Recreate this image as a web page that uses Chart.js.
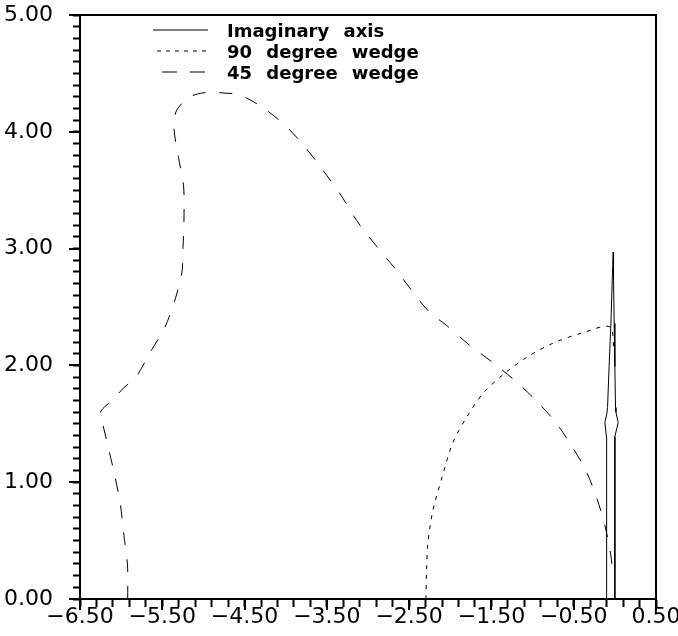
<!DOCTYPE html>
<html>
<head>
<meta charset="utf-8">
<script src="https://cdn.jsdelivr.net/npm/chart.js@4.4.0/dist/chart.umd.min.js"></script>
<style>
  body { margin: 0; background: #fff; }
</style>
</head>
<body>
<canvas id="wedges" width="678" height="636"></canvas>
<script>
// ---- data ----
var seriesNames = ["Imaginary axis", "90 degree wedge", "45 degree wedge"];

var imagX = [-0.100, -0.100, -0.100, -0.121, -0.097, -0.089, -0.070, -0.048, -0.032, -0.020,
             -0.016, -0.008, 0.000, 0.008, 0.013, 0.040, 0.000, 0.000, 0.000];
var imagY = [0.00, 1.20, 1.37, 1.51, 1.59, 1.64, 1.99, 2.36, 2.73, 2.97,
             2.73, 2.36, 1.99, 1.64, 1.60, 1.51, 1.39, 1.20, 0.00];

var wedge90X = [-2.296, -2.288, -2.272, -2.211, -2.101, -1.968, -1.798, -1.603, -1.360, -1.069,
                -0.753, -0.388, -0.060, -0.012];
var wedge90Y = [0.00, 0.25, 0.48, 0.76, 1.04, 1.34, 1.56, 1.76, 1.92, 2.07,
                2.19, 2.28, 2.33, 2.13];

var wedge45X = [-5.920, -5.923, -5.965, -6.008, -6.075, -6.154, -6.239, -6.245, -6.111, -5.965,
                -5.820, -5.649, -5.467, -5.346, -5.261, -5.248, -5.236, -5.242, -5.303, -5.358,
                -5.334, -5.224, -5.091, -4.908, -4.726, -4.568, -4.264, -3.985, -3.754, -3.547,
                -3.341, -3.098, -2.673, -2.272, -2.041, -1.761, -1.494, -1.214, -0.959, -0.728,
                -0.534, -0.352, -0.218, -0.121, -0.048, -0.036];
var wedge45Y = [0.00, 0.29, 0.54, 0.80, 1.05, 1.29, 1.55, 1.61, 1.70, 1.81,
                1.90, 2.11, 2.33, 2.56, 2.80, 3.01, 3.27, 3.54, 3.78, 4.03,
                4.17, 4.27, 4.32, 4.34, 4.33, 4.32, 4.20, 4.04, 3.86, 3.67,
                3.47, 3.20, 2.83, 2.47, 2.34, 2.17, 2.03, 1.87, 1.70, 1.52,
                1.32, 1.10, 0.86, 0.63, 0.37, 0.29];

var xMajor = [-6.5, -5.5, -4.5, -3.5, -2.5, -1.5, -0.5, 0.5];
var xTickLabels = ["\u22126.50", "\u22125.50", "\u22124.50", "\u22123.50", "\u22122.50", "\u22121.50", "\u22120.50", "0.50"];
var yMajor = [0, 1, 2, 3, 4, 5];
var yTickLabels = ["0.00", "1.00", "2.00", "3.00", "4.00", "5.00"];
var xMinorStep = 0.2;
var yMinorStep = 0.1;

function pts(xs, ys) {
    return xs.map(function (x, i) { return { x: x, y: ys[i] }; });
}

function majorIndex(list, v) {
    for (var i = 0; i < list.length; i++) {
        if (Math.abs(list[i] - v) < 1e-6) return i;
    }
    return -1;
}

function minorTicks(scale, step) {
    var t = [];
    var n = Math.round((scale.max - scale.min) / step);
    for (var i = 0; i <= n; i++) {
        t.push({ value: +(scale.min + i * step).toFixed(4) });
    }
    scale.ticks = t;
}

// frame, longer major ticks and the legend inside the plot
var extras = {
    id: 'extras',
    afterDraw: function (chart) {
        var c = chart.ctx, a = chart.chartArea;
        var xs = chart.scales.x, ys = chart.scales.y;
        c.save();
        c.strokeStyle = '#000';
        c.lineWidth = 2;
        c.strokeRect(a.left, a.top, a.right - a.left, a.bottom - a.top);

        c.beginPath();
        xMajor.forEach(function (v) {
            var p = Math.round(xs.getPixelForValue(v));
            c.moveTo(p, a.bottom);
            c.lineTo(p, a.bottom + 11);
        });
        yMajor.forEach(function (v) {
            var p = Math.round(ys.getPixelForValue(v));
            c.moveTo(a.left, p);
            c.lineTo(a.left - 11, p);
        });
        c.stroke();

        c.font = 'bold 18px "DejaVu Sans"';
        c.fillStyle = '#000';
        c.textBaseline = 'alphabetic';
        if ('wordSpacing' in c) c.wordSpacing = '8px';
        chart.data.datasets.forEach(function (ds, i) {
            var y = 30 + i * 21;
            c.lineWidth = 1;
            c.setLineDash(ds.legendDash);
            c.beginPath();
            c.moveTo(ds.legendStart, y);
            c.lineTo(208, y);
            c.stroke();
            c.setLineDash([]);
            c.fillText(ds.label, 227, y + 7);
        });
        c.restore();
    }
};

var ctx = document.getElementById("wedges").getContext("2d");
var wedgeChart = new Chart(ctx, {
    type: 'scatter',
    data: {
        datasets: [{
            label: seriesNames[0],
            data: pts(imagX, imagY),
            showLine: true,
            borderColor: '#000',
            borderWidth: 1,
            pointRadius: 0,
            tension: 0,
            legendDash: [],
            legendStart: 153
        }, {
            label: seriesNames[1],
            data: pts(wedge90X, wedge90Y),
            showLine: true,
            borderColor: '#000',
            borderWidth: 1,
            borderDash: [4, 6],
            pointRadius: 0,
            tension: 0.3,
            legendDash: [4, 5],
            legendStart: 157
        }, {
            label: seriesNames[2],
            data: pts(wedge45X, wedge45Y),
            showLine: true,
            borderColor: '#000',
            borderWidth: 1,
            borderDash: [13, 14],
            pointRadius: 0,
            tension: 0.3,
            legendDash: [15, 13],
            legendStart: 162
        }]
    },
    options: {
        responsive: false,
        animation: false,
        devicePixelRatio: 1,
        layout: { padding: { top: 15, right: 22, bottom: 0, left: 0 } },
        plugins: { legend: { display: false }, tooltip: { enabled: false } },
        scales: {
            x: {
                type: 'linear',
                min: -6.5,
                max: 0.5,
                afterBuildTicks: function (s) { minorTicks(s, xMinorStep); },
                afterFit: function (s) { s.height = 37; s.paddingLeft = 0; s.paddingRight = 0; },
                grid: { drawOnChartArea: false, tickLength: 8, tickWidth: 2, tickColor: '#000' },
                border: { display: true, color: '#000', width: 2 },
                ticks: {
                    autoSkip: false,
                    maxRotation: 0,
                    minRotation: 0,
                    padding: -3,
                    color: '#000',
                    font: { family: '"DejaVu Sans"', size: 22 },
                    callback: function (v) {
                        var i = majorIndex(xMajor, v);
                        return i < 0 ? '' : xTickLabels[i];
                    }
                }
            },
            y: {
                type: 'linear',
                min: 0,
                max: 5,
                afterBuildTicks: function (s) { minorTicks(s, yMinorStep); },
                afterFit: function (s) { s.width = 80; s.paddingTop = 0; s.paddingBottom = 0; },
                grid: { drawOnChartArea: false, tickLength: 7, tickWidth: 2, tickColor: '#000' },
                border: { display: true, color: '#000', width: 2 },
                ticks: {
                    autoSkip: false,
                    padding: 20,
                    color: '#000',
                    font: { family: '"DejaVu Sans"', size: 22 },
                    callback: function (v) {
                        var i = majorIndex(yMajor, v);
                        return i < 0 ? '' : yTickLabels[i];
                    }
                }
            }
        }
    },
    plugins: [extras]
});
</script>
</body>
</html>
